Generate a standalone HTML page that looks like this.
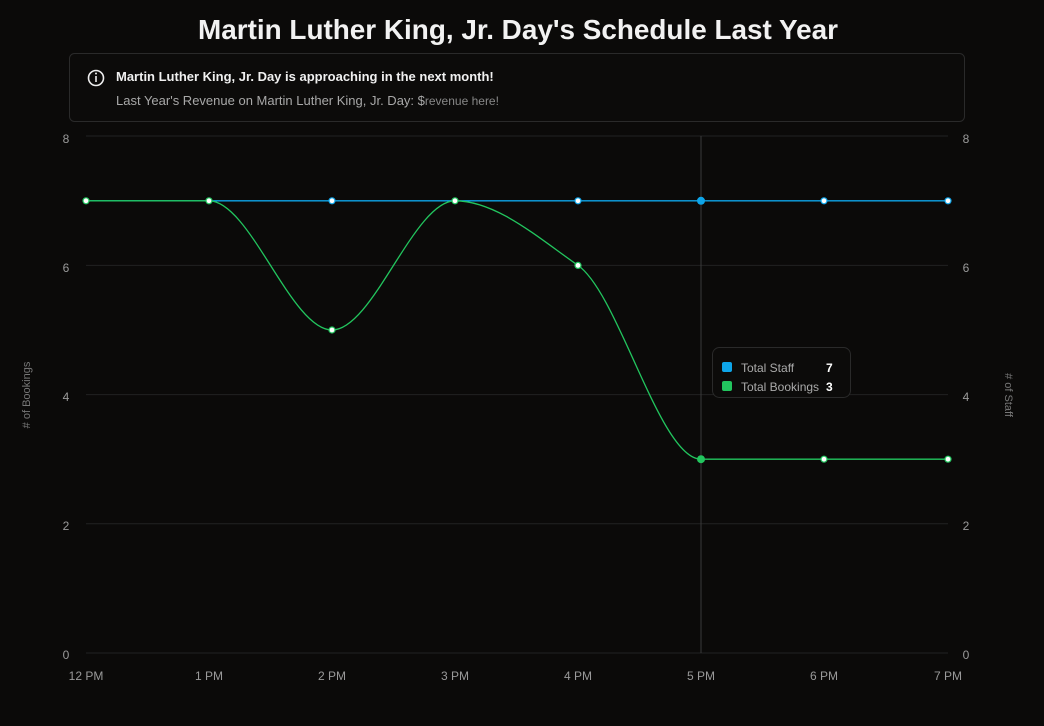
<!DOCTYPE html>
<html><head><meta charset="utf-8"><style>
body{margin:0;background:#0b0a09;width:1044px;height:721px;overflow:hidden;font-family:"Liberation Sans","DejaVu Sans",sans-serif}
</style></head><body>
<svg width="1044" height="721" xmlns="http://www.w3.org/2000/svg" font-family="Liberation Sans, DejaVu Sans, sans-serif">
<rect width="1044" height="721" fill="#0b0a09"/>
<text x="518" y="39" text-anchor="middle" fill="#f2f2f2" font-size="28" font-weight="bold" textLength="640" lengthAdjust="spacingAndGlyphs">Martin Luther King, Jr. Day's Schedule Last Year</text>
<rect x="69.5" y="53.5" width="895" height="68" rx="5" fill="#0c0b0a" stroke="#2a2a2a"/>
<circle cx="96" cy="78" r="7.5" fill="none" stroke="#eee" stroke-width="1.6"/>
<line x1="96" y1="76" x2="96" y2="82" stroke="#eee" stroke-width="1.6"/><circle cx="96" cy="73.5" r="1" fill="#eee"/>
<text x="116" y="81" fill="#f0f0f0" font-size="13" font-weight="bold">Martin Luther King, Jr. Day is approaching in the next month!</text>
<text x="116" y="105" fill="#a8a8a8" font-size="13">Last Year's Revenue on Martin Luther King, Jr. Day: $<tspan font-size="12" fill="#888">revenue here!</tspan></text>
<g stroke="#222" stroke-width="1">
<line x1="86" y1="136" x2="948" y2="136"/><line x1="86" y1="265.4" x2="948" y2="265.4"/><line x1="86" y1="394.6" x2="948" y2="394.6"/><line x1="86" y1="523.8" x2="948" y2="523.8"/><line x1="86" y1="653" x2="948" y2="653"/>
</g>
<line x1="701" y1="136" x2="701" y2="653" stroke="#3a3a3a"/>
<g fill="#9a9a9a" font-size="12">
<g text-anchor="middle">
<text x="66" y="143">8</text><text x="66" y="272">6</text><text x="66" y="401">4</text><text x="66" y="530">2</text><text x="66" y="659">0</text>
<text x="966" y="143">8</text><text x="966" y="272">6</text><text x="966" y="401">4</text><text x="966" y="530">2</text><text x="966" y="659">0</text>
<text x="86" y="680">12 PM</text><text x="209" y="680">1 PM</text><text x="332" y="680">2 PM</text><text x="455" y="680">3 PM</text><text x="578" y="680">4 PM</text><text x="701" y="680">5 PM</text><text x="824" y="680">6 PM</text><text x="948" y="680">7 PM</text></g>
<text transform="translate(30,395) rotate(-90)" text-anchor="middle" font-size="11" fill="#777"># of Bookings</text>
<text transform="translate(1005,395) rotate(90)" text-anchor="middle" font-size="11" fill="#777"># of Staff</text>
</g>
<line x1="86" y1="200.8" x2="948" y2="200.8" stroke="#0ea5e9" stroke-width="1.3"/>
<path d="M86,200.8 L209,200.8 C250,200.8 291,330 332,330 C373,330 414,200.8 455,200.8 C496,200.8 537,236.7 578,265.4 C619,294.1 660,459.2 701,459.2 L948,459.2" fill="none" stroke="#22c55e" stroke-width="1.3"/>
<g fill="#fff" stroke="#0ea5e9" stroke-width="1.2">
<circle cx="332" cy="200.8" r="3"/><circle cx="578" cy="200.8" r="3"/><circle cx="824" cy="200.8" r="3"/><circle cx="948" cy="200.8" r="3"/>
</g>
<circle cx="701" cy="200.8" r="4" fill="#0ea5e9"/>
<g fill="#fff" stroke="#22c55e" stroke-width="1.2">
<circle cx="86" cy="200.8" r="3"/><circle cx="209" cy="200.8" r="3"/><circle cx="455" cy="200.8" r="3"/><circle cx="332" cy="330" r="3"/><circle cx="578" cy="265.4" r="3"/><circle cx="824" cy="459.2" r="3"/><circle cx="948" cy="459.2" r="3"/>
</g>
<circle cx="701" cy="459.2" r="4" fill="#22c55e"/>
<rect x="712.5" y="347.5" width="138" height="50" rx="7" fill="#0c0b0a" stroke="#2a2a2a"/>
<rect x="722" y="362" width="10" height="10" rx="2" fill="#0ea5e9"/>
<rect x="722" y="381" width="10" height="10" rx="2" fill="#22c55e"/>
<text x="741" y="372" fill="#aaa" font-size="12">Total Staff</text>
<text x="741" y="391" fill="#aaa" font-size="12">Total Bookings</text>
<text x="826" y="372" fill="#fff" font-size="12" font-weight="bold">7</text>
<text x="826" y="391" fill="#fff" font-size="12" font-weight="bold">3</text>
</svg>
</body></html>
